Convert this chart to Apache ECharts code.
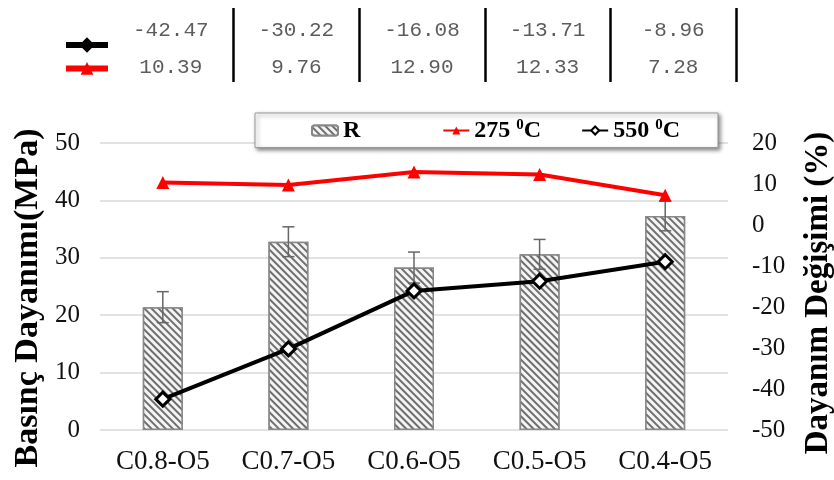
<!DOCTYPE html>
<html>
<head>
<meta charset="utf-8">
<script src="https://cdn.jsdelivr.net/npm/echarts@6/dist/echarts.min.js"></script>
<style>
  html, body { margin: 0; padding: 0; background: #fff; }
  #chart { width: 834px; height: 480px; }
</style>
</head>
<body>
<div id="chart"></div>
<script>
const categories = ['C0.8-O5', 'C0.7-O5', 'C0.6-O5', 'C0.5-O5', 'C0.4-O5']
const strength = [21.4, 32.8, 28.3, 30.6, 37.3]
const strengthErr = [2.7, 2.6, 2.7, 2.6, 2.6]
const change275 = [10.39, 9.76, 12.90, 12.33, 7.28]
const change550 = [-42.47, -30.22, -16.08, -13.71, -8.96]
const tableRows = ['550', '275']

const serif = '"Liberation Serif", "Times New Roman", serif'
const mono = '"Liberation Mono", "Courier New", monospace'
const nbsp = n => '\u00a0'.repeat(n)

const chart = echarts.init(document.getElementById('chart'))

const rowData = (row, values) => values.map((v, i) => [i, row, v])

const tableLabel = {
  show: true,
  position: 'inside',
  offset: [0, 4],
  formatter: p => p.value[2].toFixed(2),
  fontFamily: mono,
  fontSize: 21,
  color: '#333'
}

// rotated axis titles, placed like the reference
const axisTitle = (text, x, y, size) => ({
  type: 'text',
  x: x,
  y: y,
  rotation: Math.PI / 2,
  style: {
    text: text,
    fontFamily: serif,
    fontWeight: 'bold',
    fontSize: size,
    fill: '#000',
    align: 'center',
    verticalAlign: 'middle'
  }
})

const option = {
  backgroundColor: '#fff',
  animation: false,
  grid: [
    { left: 100, right: 106, top: 143, bottom: 50, outerBoundsMode: 'none' },
    { left: 108, right: 98, top: 8, height: 74, outerBoundsMode: 'none' }
  ],
  graphic: [
    axisTitle('Basınç Dayanımı(MPa)', 28, 298, 34),
    axisTitle('Dayanım Değişimi (%)', 818, 293, 33)
  ],
  legend: [
    {
      data: ['R', '275', '550'],
      left: 255,
      top: 113,
      orient: 'horizontal',
      selectedMode: false,
      backgroundColor: '#fff',
      borderColor: '#999',
      borderWidth: 1,
      shadowBlur: 4,
      shadowColor: 'rgba(0,0,0,0.45)',
      shadowOffsetX: 2,
      shadowOffsetY: 2,
      padding: [5, 38, 5, 56],
      itemGap: 40,
      itemWidth: 26,
      itemHeight: 10,
      formatter: name => name === 'R'
        ? '{t|R' + nbsp(7) + '}'
        : '{t|' + name + ' }{s|0}{t|C}',
      textStyle: {
        fontFamily: serif,
        fontWeight: 'bold',
        fontSize: 24,
        color: '#000',
        rich: {
          t: { fontFamily: serif, fontWeight: 'bold', fontSize: 24, color: '#000' },
          s: { fontFamily: serif, fontWeight: 'bold', fontSize: 15, color: '#000', verticalAlign: 'top', padding: [0, 0, 10, 0] }
        }
      }
    },
    {
      data: [
        { name: '550', itemStyle: { color: '#000', borderColor: '#000' }, lineStyle: { width: 6 } },
        { name: '275', lineStyle: { width: 6 } }
      ],
      left: 58,
      top: 32,
      orient: 'vertical',
      selectedMode: false,
      itemWidth: 42,
      itemHeight: 16,
      itemGap: 8,
      formatter: () => '',
      textStyle: { fontSize: 1 }
    }
  ],
  xAxis: [
    {
      type: 'category',
      gridIndex: 0,
      data: categories,
      axisLine: { show: false },
      axisTick: { show: false },
      axisLabel: { fontFamily: serif, fontSize: 27, color: '#111', margin: 18 }
    },
    {
      type: 'category',
      gridIndex: 1,
      data: categories,
      axisLine: { show: false },
      axisTick: { show: false },
      axisLabel: { show: false },
      splitLine: {
        show: true,
        interval: index => index > 0,
        lineStyle: { color: '#000', width: 2.5 }
      }
    }
  ],
  yAxis: [
    {
      type: 'value',
      gridIndex: 0,
      min: 0,
      max: 50,
      interval: 10,
      axisLine: { show: false },
      axisTick: { show: false },
      axisLabel: { fontFamily: serif, fontSize: 25, color: '#111', margin: 20 },
      splitLine: { lineStyle: { color: '#d9d9d9', width: 1.5 } }
    },
    {
      type: 'value',
      gridIndex: 0,
      position: 'right',
      min: -50,
      max: 20,
      interval: 10,
      axisLine: { show: false },
      axisTick: { show: false },
      axisLabel: { fontFamily: serif, fontSize: 25, color: '#111', margin: 24 },
      splitLine: { show: false }
    },
    {
      type: 'category',
      gridIndex: 1,
      data: tableRows,
      inverse: true,
      show: false
    }
  ],
  series: [
    {
      name: 'R',
      type: 'bar',
      xAxisIndex: 0,
      yAxisIndex: 0,
      data: strength,
      barWidth: 40,
      z: 2,
      itemStyle: {
        color: '#fff',
        borderColor: '#888',
        borderWidth: 1.5,
        decal: {
          symbol: 'rect',
          symbolSize: 1,
          color: '#6e6e6e',
          backgroundColor: '#f4f4f4',
          dashArrayX: [1, 0],
          dashArrayY: [2, 3],
          rotation: Math.PI / 4
        }
      }
    },
    {
      name: 'err',
      type: 'custom',
      xAxisIndex: 0,
      yAxisIndex: 0,
      z: 3,
      data: strength.map((v, i) => [i, v, strengthErr[i]]),
      renderItem: (params, api) => {
        const i = api.value(0)
        const v = api.value(1)
        const e = api.value(2)
        const top = api.coord([i, v + e])
        const bot = api.coord([i, v - e])
        const cap = 6
        const style = { stroke: '#666', lineWidth: 1.5 }
        return {
          type: 'group',
          children: [
            { type: 'line', shape: { x1: top[0], y1: top[1], x2: bot[0], y2: bot[1] }, style },
            { type: 'line', shape: { x1: top[0] - cap, y1: top[1], x2: top[0] + cap, y2: top[1] }, style },
            { type: 'line', shape: { x1: bot[0] - cap, y1: bot[1], x2: bot[0] + cap, y2: bot[1] }, style }
          ]
        }
      }
    },
    {
      name: '275',
      type: 'line',
      xAxisIndex: 0,
      yAxisIndex: 1,
      data: change275,
      z: 5,
      symbol: 'triangle',
      symbolSize: 13,
      lineStyle: { color: '#ff0000', width: 4 },
      itemStyle: { color: '#ff0000' }
    },
    {
      name: '550',
      type: 'line',
      xAxisIndex: 0,
      yAxisIndex: 1,
      data: change550,
      z: 5,
      symbol: 'diamond',
      symbolSize: 14,
      lineStyle: { color: '#000', width: 4 },
      itemStyle: { color: '#fff', borderColor: '#000', borderWidth: 3 }
    },
    {
      name: 'table550',
      type: 'scatter',
      xAxisIndex: 1,
      yAxisIndex: 2,
      data: rowData('550', change550),
      symbolSize: 1,
      itemStyle: { color: 'rgba(0,0,0,0)' },
      label: tableLabel
    },
    {
      name: 'table275',
      type: 'scatter',
      xAxisIndex: 1,
      yAxisIndex: 2,
      data: rowData('275', change275),
      symbolSize: 1,
      itemStyle: { color: 'rgba(0,0,0,0)' },
      label: tableLabel
    }
  ]
}

chart.setOption(option)
</script>
</body>
</html>
